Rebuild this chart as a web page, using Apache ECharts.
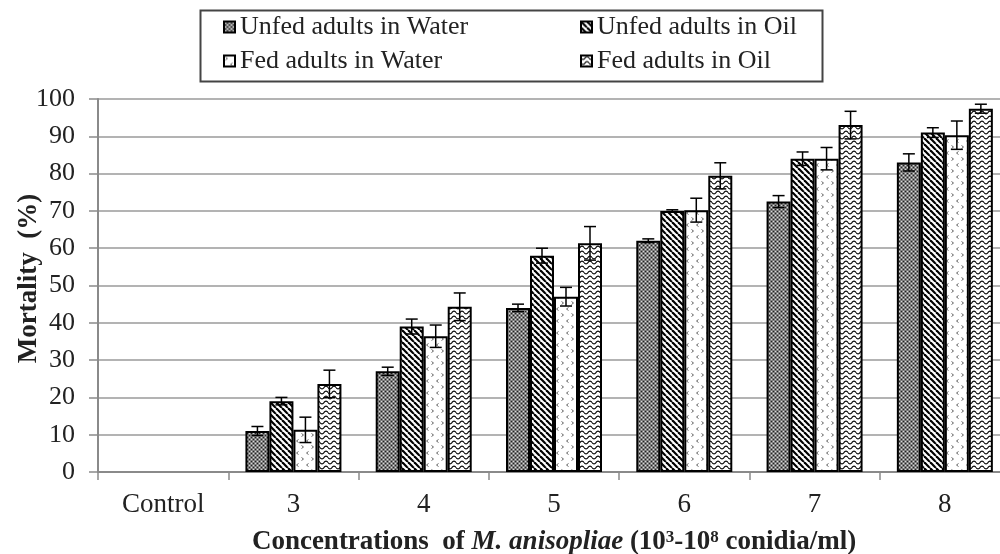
<!DOCTYPE html>
<html>
<head>
<meta charset="utf-8">
<title>Mortality chart</title>
<script src="https://cdn.jsdelivr.net/npm/echarts@6/dist/echarts.min.js"></script>
<style>
  html, body { margin: 0; padding: 0; background: #fff; }
  #chart { width: 1000px; height: 554px; }
</style>
</head>
<body>
<div id="chart"></div>
<script>
// data
const categories = ['Control', '3', '4', '5', '6', '7', '8'];
const seriesNames = ['Unfed adults in Water', 'Unfed adults in Oil', 'Fed adults in Water', 'Fed adults in Oil'];
const unfedWater = [0, 11, 27, 44, 62, 72.5, 83];
const unfedOil = [0, 19, 39, 58, 70, 84, 91];
const fedWater = [0, 11.3, 36.4, 47, 70.2, 84, 90.3];
const fedOil = [0, 23.6, 44.3, 61.3, 79.4, 93, 97.4];
const unfedWaterErr = [0, 1.2, 1.1, 1, 0.5, 1.6, 2.3];
const unfedOilErr = [0, 1, 2, 2, 0.3, 1.8, 1.3];
const fedWaterErr = [0, 3.4, 3, 2.5, 3.2, 3, 3.8];
const fedOilErr = [0, 3.7, 3.7, 4.5, 3.5, 3.7, 1.2];
const yTicks = [0, 100, 10]; // min, max, step

const values = [unfedWater, unfedOil, fedWater, fedOil];
const errors = [unfedWaterErr, unfedOilErr, fedWaterErr, fedOilErr];

const FONT = '"Liberation Serif", "Times New Roman", serif';
const BAR_W = 24;

// fill patterns drawn on small canvases
function makePattern(kind) {
  const c = document.createElement('canvas');
  const g = c.getContext('2d');
  if (kind === 'dots') {
    c.width = 4; c.height = 4;
    g.fillStyle = '#7e7e7e'; g.fillRect(0, 0, 4, 4);
    g.fillStyle = '#d8d8d8'; g.fillRect(1, 1, 1, 1); g.fillRect(3, 3, 1, 1);
    g.fillStyle = '#222'; g.fillRect(1, 3, 1, 1); g.fillRect(3, 1, 1, 1);
  } else if (kind === 'diag') {
    c.width = 6; c.height = 6;
    g.fillStyle = '#fff'; g.fillRect(0, 0, 6, 6);
    g.strokeStyle = '#000'; g.lineWidth = 2.2;
    [-6, 0, 6].forEach(function (o) {
      g.beginPath(); g.moveTo(o, 0); g.lineTo(o + 6, 6); g.stroke();
    });
  } else if (kind === 'chevron') {
    c.width = 10; c.height = 12;
    g.fillStyle = '#fff'; g.fillRect(0, 0, 10, 12);
    g.strokeStyle = '#666'; g.lineWidth = 1;
    g.beginPath(); g.moveTo(1.5, 1.5); g.lineTo(3.5, 3); g.lineTo(1.5, 4.5); g.stroke();
    g.beginPath(); g.moveTo(8.5, 7.5); g.lineTo(6.5, 9); g.lineTo(8.5, 10.5); g.stroke();
  } else if (kind === 'wave') {
    c.width = 8; c.height = 5;
    g.fillStyle = '#fff'; g.fillRect(0, 0, 8, 5);
    g.strokeStyle = '#000'; g.lineWidth = 1.1;
    g.beginPath();
    for (let x = 0; x <= 8; x += 0.5) {
      const y = 2.5 + 1.4 * Math.sin(x / 8 * Math.PI * 2);
      if (x === 0) g.moveTo(x, y); else g.lineTo(x, y);
    }
    g.stroke();
  }
  return { image: c, repeat: 'repeat' };
}

const fills = [makePattern('dots'), makePattern('diag'), makePattern('chevron'), makePattern('wave')];

const chart = echarts.init(document.getElementById('chart'), null, { renderer: 'canvas' });

const series = [];
values.forEach(function (vals, i) {
  series.push({
    name: seriesNames[i],
    type: 'bar',
    barWidth: BAR_W,
    barGap: '0%',
    itemStyle: { color: fills[i], borderColor: '#000', borderWidth: 2 },
    data: vals.map(function (v) {
      return v === 0 ? { value: 0, itemStyle: { borderWidth: 0 } } : v;
    }),
    z: 2
  });
});

// error bars
values.forEach(function (vals, i) {
  const offset = (i - 1.5) * BAR_W;
  series.push({
    type: 'custom',
    name: seriesNames[i] + ' err',
    z: 5,
    silent: true,
    renderItem: function (params, api) {
      const cat = api.value(0);
      const v = api.value(1);
      const e = api.value(2);
      if (!e) return null;
      const top = api.coord([cat, v + e]);
      const bot = api.coord([cat, v - e]);
      const x = top[0] + offset;
      const cap = 6;
      const st = { stroke: '#000', lineWidth: 1.5 };
      return {
        type: 'group',
        children: [
          { type: 'line', shape: { x1: x, y1: top[1], x2: x, y2: bot[1] }, style: st },
          { type: 'line', shape: { x1: x - cap, y1: top[1], x2: x + cap, y2: top[1] }, style: st },
          { type: 'line', shape: { x1: x - cap, y1: bot[1], x2: x + cap, y2: bot[1] }, style: st }
        ]
      };
    },
    data: vals.map(function (v, k) { return [k, v, errors[i][k]]; })
  });
});

const legendText = { fontFamily: FONT, fontSize: 26, color: '#222' };

chart.setOption({
  animation: false,
  backgroundColor: '#fff',
  textStyle: { fontFamily: FONT },
  grid: { left: 98, width: 912, top: 99, bottom: 82, containLabel: false, outerBoundsMode: 'none' },
  legend: [
    {
      orient: 'vertical', left: 223, top: 14, itemWidth: 11, itemHeight: 11, itemGap: 8,
      icon: 'rect', textStyle: legendText, padding: 0,
      data: [seriesNames[0], seriesNames[2]]
    },
    {
      orient: 'vertical', left: 580, top: 14, itemWidth: 11, itemHeight: 11, itemGap: 8,
      icon: 'rect', textStyle: legendText, padding: 0,
      data: [seriesNames[1], seriesNames[3]]
    }
  ],
  graphic: [
    {
      type: 'rect', left: 198, top: 8, silent: true,
      shape: { width: 622, height: 71 },
      style: { fill: 'none', stroke: '#444', lineWidth: 2 }
    }
  ],
  xAxis: {
    type: 'category',
    data: categories,
    axisLine: { lineStyle: { color: '#8a8a8a', width: 2 } },
    axisTick: { show: true, length: 8, lineStyle: { color: '#8a8a8a', width: 1.5 } },
    axisLabel: { fontFamily: FONT, fontSize: 27, color: '#222', margin: 19 },
    name: '{b|Concentrations  of }{bi|M. anisopliae}{b| (10}{sup|3}{b|-10}{sup|8}{b| conidia/ml)}',
    nameLocation: 'middle',
    nameGap: 57,
    nameMoveOverlap: false,
    nameTextStyle: {
      fontFamily: FONT,
      rich: {
        b: { fontFamily: FONT, fontSize: 27, fontWeight: 'bold', color: '#222' },
        bi: { fontFamily: FONT, fontSize: 27, fontWeight: 'bold', fontStyle: 'italic', color: '#222' },
        sup: { fontFamily: FONT, fontSize: 17, fontWeight: 'bold', color: '#222', verticalAlign: 'top' }
      }
    }
  },
  yAxis: {
    type: 'value',
    min: yTicks[0],
    max: yTicks[1],
    interval: yTicks[2],
    axisLine: { show: true, lineStyle: { color: '#8a8a8a', width: 2 } },
    axisTick: { show: true, length: 9, lineStyle: { color: '#8a8a8a', width: 1.5 } },
    axisLabel: { fontFamily: FONT, fontSize: 26, color: '#222', margin: 23 },
    splitLine: { lineStyle: { color: '#9a9a9a', width: 1.5 } },
    name: 'Mortality  (%)',
    nameLocation: 'middle',
    nameGap: 55,
    nameMoveOverlap: false,
    nameTextStyle: { fontFamily: FONT, fontSize: 27, fontWeight: 'bold', color: '#222', padding: [0, 0, 0, 14] }
  },
  series: series
});
</script>
</body>
</html>
